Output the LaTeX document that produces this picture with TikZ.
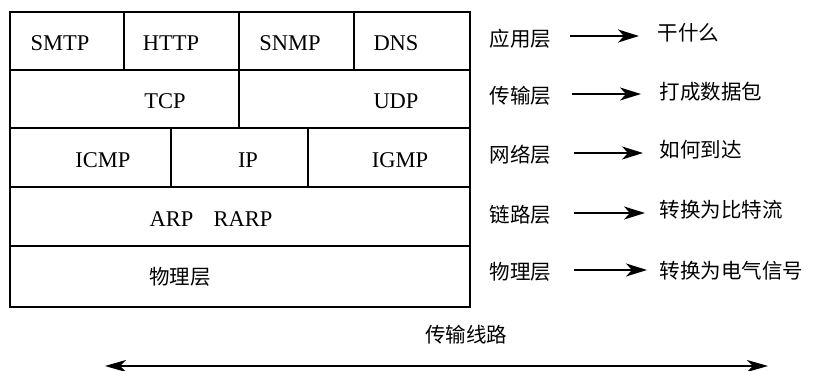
\documentclass[tikz,border=0pt]{standalone}
\usepackage{fontspec}
\setmainfont{Liberation Serif}
\newfontfamily\cjk{Noto Sans CJK SC}
\usetikzlibrary{arrows.meta}
\begin{document}
\begin{tikzpicture}[x=1pt,y=-1pt,
  box/.style={draw=black,line width=1.5pt},
  lat/.style={font=\fontsize{22.5}{25}\selectfont},
  zh/.style={font=\cjk\fontsize{20.5}{23}\selectfont},
  arr/.style={line width=1.6pt,-{Stealth[length=21pt,width=13pt,inset=6pt]}},
  darr/.style={line width=1.6pt,{Stealth[length=21pt,width=12pt,inset=6pt]}-{Stealth[length=21pt,width=12pt,inset=6pt]}}]
\useasboundingbox (0,0) rectangle (821,371);
% rows
\draw[box] (10,12) rectangle (124,70);
\draw[box] (124,12) rectangle (239,70);
\draw[box] (239,12) rectangle (354,70);
\draw[box] (354,12) rectangle (470,70);
\draw[box] (10,70) rectangle (239,128);
\draw[box] (239,70) rectangle (470,128);
\draw[box] (10,128) rectangle (171,187);
\draw[box] (171,128) rectangle (308,187);
\draw[box] (308,128) rectangle (470,187);
\draw[box] (10,187) rectangle (470,246);
\draw[box] (10,246) rectangle (470,307);
% cell texts
\node[lat] (smtp) at (60,43) {SMTP};
\node[lat] (http) at (171,43) {HTTP};
\node[lat] (snmp) at (290,43) {SNMP};
\node[lat] (dns) at (396,43) {DNS};
\node[lat] (tcp) at (165,101) {TCP};
\node[lat] (udp) at (396,101) {UDP};
\node[lat] (icmp) at (103,160) {ICMP};
\node[lat] (ip) at (248,160) {IP};
\node[lat] (igmp) at (400,160) {IGMP};
\node[lat] (arp) at (211,219) {ARP\hspace{0.9em}RARP};
\node[zh] (phy) at (180,277) {物理层};
% right side
\node[zh,anchor=west] (l1) at (486,39) {应用层};
\node[zh,anchor=west] (l2) at (486,96) {传输层};
\node[zh,anchor=west] (l3) at (486,155) {网络层};
\node[zh,anchor=west] (l4) at (486,215) {链路层};
\node[zh,anchor=west] (l5) at (486,272) {物理层};
\node[zh,anchor=west] (r1) at (654,33) {干什么};
\node[zh,anchor=west] (r2) at (656,92) {打成数据包};
\node[zh,anchor=west] (r3) at (656,150) {如何到达};
\node[zh,anchor=west] (r4) at (656,210) {转换为比特流};
\node[zh,anchor=west] (r5) at (656,271) {转换为电气信号};
\coordinate (a1s) at (570,36); \coordinate (a1e) at (639,36);
\coordinate (a2s) at (572,94); \coordinate (a2e) at (641,94);
\coordinate (a3s) at (574,153); \coordinate (a3e) at (643,153);
\coordinate (a4s) at (574,213); \coordinate (a4e) at (645,213);
\coordinate (a5s) at (574,270); \coordinate (a5e) at (647,270);
\draw[arr] (a1s) -- (a1e);
\draw[arr] (a2s) -- (a2e);
\draw[arr] (a3s) -- (a3e);
\draw[arr] (a4s) -- (a4e);
\draw[arr] (a5s) -- (a5e);
% bottom
\node[zh] (line) at (466,335) {传输线路};
\coordinate (bl) at (105,366);
\coordinate (br) at (768,366);
\draw[darr] (bl) -- (br);
\end{tikzpicture}
\end{document}
